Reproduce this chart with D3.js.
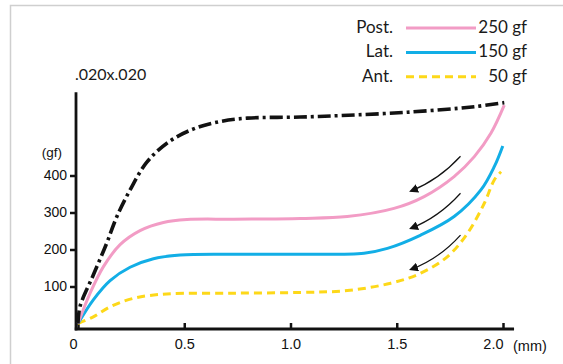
<!DOCTYPE html>
<html lang="en">
<head>
<meta charset="utf-8">
<title>Load deflection curves .020x.020</title>
<script src="https://cdn.jsdelivr.net/npm/d3@7"></script>
<style>
  body { margin: 0; background: #fff; }
  svg { display: block; }
  .tick text { font-family: "Liberation Sans", Arial, sans-serif; fill: #111; }
  .legend text { font-family: Lato, "Open Sans", sans-serif; fill: #1a1a1a; }
</style>
</head>
<body>
<div id="chart"></div>
<script>
// values (mm, gf)
var wireMm  = [0, 0.009, 0.072, 0.135, 0.183, 0.245, 0.324, 0.425, 0.544, 0.67, 0.796, 1.047, 1.236, 1.55, 1.865, 2.006];
var wireGf  = [0, 45, 131, 217, 289, 361, 436, 490, 526, 546, 555, 558, 562, 571, 586, 597];

var postMm  = [0, 0.057, 0.119, 0.198, 0.292, 0.402, 0.513, 0.733, 1.047, 1.267, 1.487, 1.629, 1.77, 1.865, 1.943, 2.006];
var postGf  = [0, 82, 153, 213, 251, 273, 281, 282, 284, 289, 311, 343, 397, 451, 514, 590];

var latMm   = [0, 0.072, 0.151, 0.245, 0.355, 0.481, 0.733, 1.047, 1.346, 1.456, 1.613, 1.77, 1.896, 1.959, 1.999];
var latGf   = [0, 64, 116, 152, 175, 185, 187, 187, 190, 203, 239, 289, 361, 424, 480];

var antMm   = [0, 0.072, 0.151, 0.261, 0.418, 0.733, 1.047, 1.267, 1.472, 1.613, 1.739, 1.833, 1.912, 1.959, 1.991];
var antGf   = [0, 18, 45, 68, 80, 82, 84, 89, 109, 136, 181, 244, 325, 388, 410];

var legendNames  = ["Post.", "Lat.", "Ant."];
var legendValues = ["250 gf", "150 gf", "50 gf"];
var xTicks = [0, 0.5, 1, 1.5, 2];
var yTicks = [100, 200, 300, 400];

// unloading arrows: [start mm, start gf, ctrl mm, ctrl gf, end mm, end gf]
var arrowPts = [
  [1.80, 452, 1.698, 388, 1.566, 358],
  [1.80, 352, 1.698, 287, 1.566, 257],
  [1.80, 239, 1.698, 174, 1.566, 146]
];

var w = 563, h = 364;
var pink = "#f29cc5", blue = "#12aee6", yellow = "#fdd819", black = "#121212";

var svg = d3.select("#chart").append("svg")
  .attr("width", w).attr("height", h);

// frame
svg.append("path")
  .attr("d", "M10.5," + h + "V5.5H" + w)
  .attr("fill", "none").attr("stroke", "#cfcfcf").attr("stroke-width", 1.5);

var x = d3.scaleLinear().domain([0, 2]).range([78, 503]);
var y = d3.scaleLinear().domain([0, 400]).range([323.5, 175.5]);

// axes
var xAxis = svg.append("g")
  .attr("transform", "translate(0,329)")
  .call(d3.axisBottom(x).tickValues(xTicks).tickSizeInner(-6).tickSizeOuter(0).tickPadding(10)
    .tickFormat(function(d){ return d === 0 ? "0" : d3.format(".1f")(d); }));
xAxis.select(".domain").remove();
xAxis.selectAll(".tick line").attr("stroke", black).attr("stroke-width", 2.5);
xAxis.selectAll(".tick text").attr("font-size", 14.5)
  .attr("text-anchor", function(d, i){ return (i === 0 || i === xTicks.length - 1) ? "end" : "middle"; })
  .attr("dx", function(d, i){ return i === 0 ? -1 : 0; });

svg.append("line")
  .attr("x1", x(-0.015)).attr("x2", x(2.052))
  .attr("y1", 329).attr("y2", 329)
  .attr("stroke", black).attr("stroke-width", 2.8);

var yAxis = svg.append("g")
  .attr("transform", "translate(76,0)")
  .call(d3.axisLeft(y).tickValues(yTicks).tickSizeInner(6).tickSizeOuter(0).tickPadding(3));
yAxis.select(".domain").remove();
yAxis.selectAll(".tick line").attr("stroke", black).attr("stroke-width", 2.5);
yAxis.selectAll(".tick text").attr("font-size", 14);

svg.append("line")
  .attr("x1", 76).attr("x2", 76)
  .attr("y1", 330.4).attr("y2", y(625))
  .attr("stroke", black).attr("stroke-width", 2.8);

svg.append("text").text("(gf)")
  .attr("x", 62).attr("y", 157).attr("text-anchor", "end")
  .attr("font-family", "Liberation Sans, Arial, sans-serif").attr("font-size", 13.5).attr("fill", "#111");

svg.append("text").text("(mm)")
  .attr("x", 513).attr("y", 351)
  .attr("font-family", "Liberation Sans, Arial, sans-serif").attr("font-size", 14.5).attr("fill", "#111");

svg.append("text").text(".020x.020")
  .attr("x", 75).attr("y", 80)
  .attr("font-family", "Lato, 'Open Sans', sans-serif").attr("font-size", 16).attr("fill", "#1a1a1a");

// curves
var line = d3.line()
  .x(function(d){ return x(d[0]); })
  .y(function(d){ return y(d[1]); })
  .curve(d3.curveCatmullRom.alpha(0.5));

function pairs(a, b){ return a.map(function(v, i){ return [v, b[i]]; }); }

var series = [
  {data: pairs(antMm, antGf),   color: yellow, width: 3,   dash: "8,5"},
  {data: pairs(latMm, latGf),   color: blue,   width: 3,   dash: null},
  {data: pairs(postMm, postGf), color: pink,   width: 3,   dash: null},
  {data: pairs(wireMm, wireGf), color: black,  width: 3.6, dash: "13,4,3,4"}
];

svg.selectAll("path.curve")
  .data(series)
  .enter()
  .append("path")
  .attr("class", "curve")
  .attr("d", function(d){ return line(d.data); })
  .attr("fill", "none")
  .attr("stroke", function(d){ return d.color; })
  .attr("stroke-width", function(d){ return d.width; })
  .attr("stroke-dasharray", function(d){ return d.dash; });

// arrows
svg.append("defs").append("marker")
  .attr("id", "head")
  .attr("viewBox", "0 0 10 10")
  .attr("refX", 8).attr("refY", 5)
  .attr("markerWidth", 9).attr("markerHeight", 9)
  .attr("markerUnits", "userSpaceOnUse")
  .attr("orient", "auto")
  .append("path").attr("d", "M0,0L10,5L0,10Z").attr("fill", black);

svg.selectAll("path.arrow")
  .data(arrowPts)
  .enter()
  .append("path")
  .attr("class", "arrow")
  .attr("d", function(a){
    return "M" + x(a[0]) + "," + y(a[1]) + "Q" + x(a[2]) + "," + y(a[3]) + " " + x(a[4]) + "," + y(a[5]);
  })
  .attr("fill", "none")
  .attr("stroke", black)
  .attr("stroke-width", 1.2)
  .attr("marker-end", "url(#head)");

// legend
var legColors = [pink, blue, yellow];
var legDash = [null, null, "8,5"];
var leg = svg.append("g").attr("class", "legend");
legendNames.forEach(function(name, i){
  var by = 33 + i * 24.4;
  leg.append("text").text(name)
    .attr("x", 393).attr("y", by).attr("text-anchor", "end").attr("font-size", 17);
  leg.append("line")
    .attr("x1", 406).attr("x2", 476)
    .attr("y1", by - 5).attr("y2", by - 5)
    .attr("stroke", legColors[i]).attr("stroke-width", 3)
    .attr("stroke-dasharray", legDash[i]);
  leg.append("text").text(legendValues[i])
    .attr("x", 527).attr("y", by).attr("text-anchor", "end").attr("font-size", 17);
});
</script>
</body>
</html>
